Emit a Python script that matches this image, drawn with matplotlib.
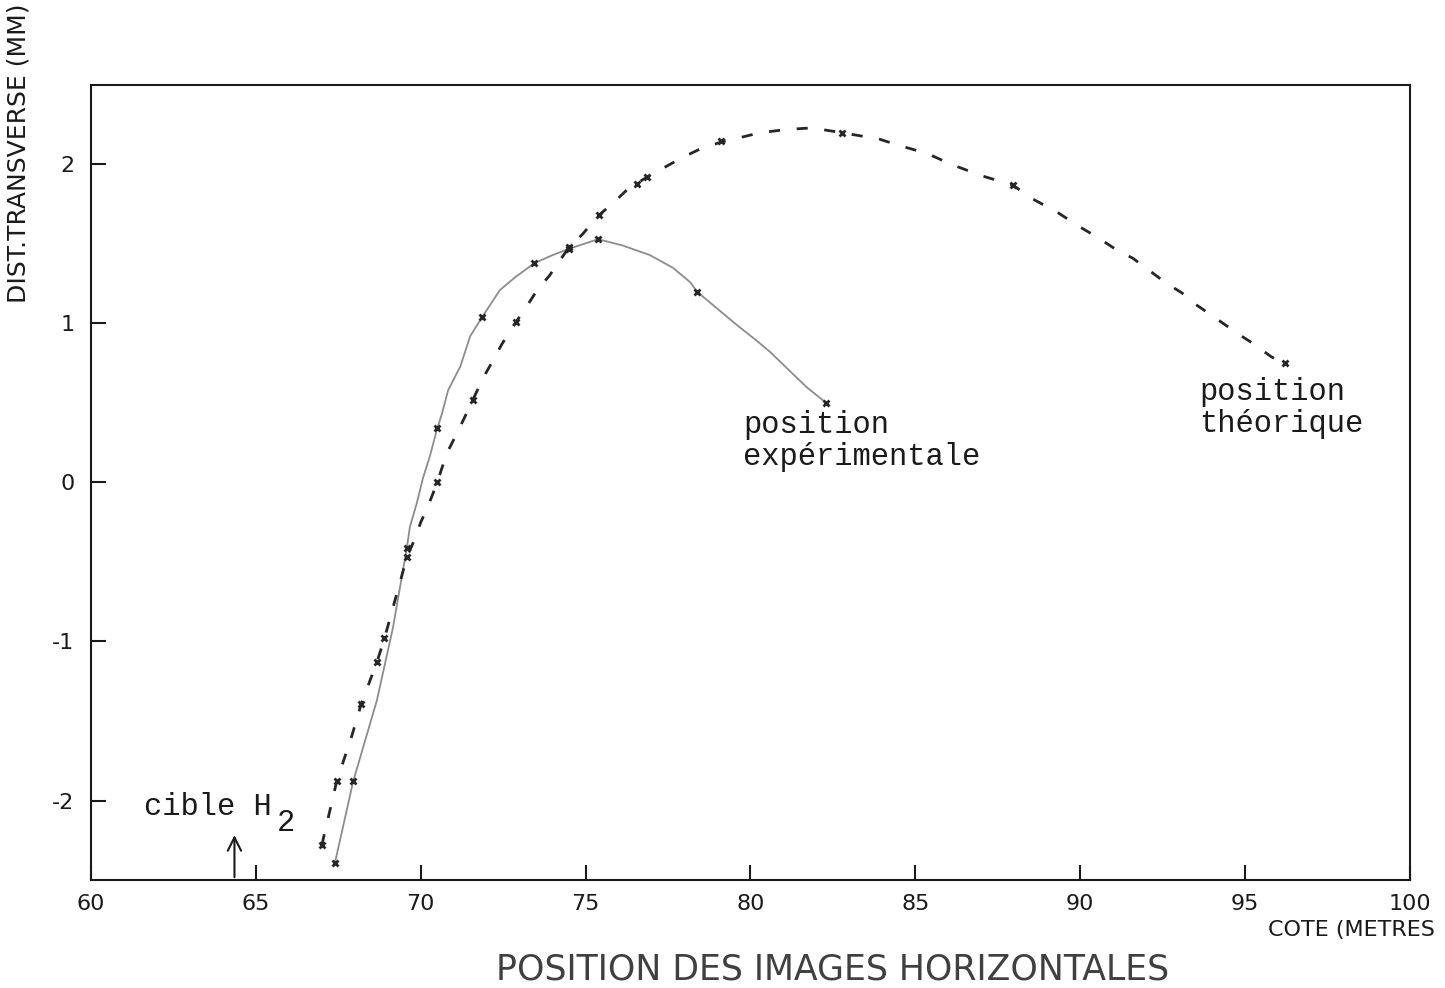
import matplotlib.pyplot as plt

# experimental beam position (pen trace) and measured points
exp_x = [67.4, 67.95, 68.67, 69.16, 69.58, 69.67, 69.88, 70.07, 70.27, 70.5, 70.64, 70.83,
         71.2, 71.5, 71.86, 72.4, 72.86, 73.45, 74.0, 74.5, 75.38, 76.13, 76.95, 77.65,
         78.17, 78.38, 79.07, 79.59, 80.2, 80.6, 81.2, 81.7, 82.3]
exp_y = [-2.39, -1.88, -1.37, -0.91, -0.41, -0.28, -0.13, 0.03, 0.16, 0.34, 0.43, 0.58,
         0.73, 0.92, 1.04, 1.21, 1.29, 1.38, 1.43, 1.47, 1.53, 1.49, 1.43, 1.35,
         1.26, 1.20, 1.08, 0.99, 0.89, 0.82, 0.70, 0.60, 0.50]
exp_mx = [67.4, 67.95, 69.58, 70.5, 71.86, 73.45, 74.5, 75.38, 78.38, 82.3]
exp_my = [-2.39, -1.88, -0.41, 0.34, 1.04, 1.38, 1.47, 1.53, 1.20, 0.50]

# theoretical position
th_x = [67.0, 67.45, 67.9, 68.2, 68.67, 68.9, 69.58, 69.83, 70.0, 70.22, 70.5, 70.64,
        70.83, 71.1, 71.4, 71.58, 71.74, 71.98, 72.2, 72.46, 72.89, 73.16, 73.53, 73.9,
        74.5, 74.9, 75.4, 75.9, 76.3, 76.86, 77.9, 78.5, 79.1, 80.3, 81.1, 81.86, 82.77,
        83.9, 84.5, 85.35, 86.1, 87.0, 87.96, 88.5, 89.3, 90.05, 90.54, 91.05, 91.6,
        92.57, 93.1, 93.5, 94.0, 94.75, 95.2, 95.8, 96.2]
th_y = [-2.28, -1.88, -1.6, -1.39, -1.13, -0.98, -0.47, -0.35, -0.25, -0.15, 0.0, 0.09,
        0.2, 0.31, 0.44, 0.52, 0.59, 0.69, 0.77, 0.87, 1.01, 1.09, 1.21, 1.3,
        1.48, 1.56, 1.68, 1.77, 1.85, 1.92, 2.04, 2.10, 2.14, 2.20, 2.22, 2.23, 2.20,
        2.16, 2.12, 2.07, 2.00, 1.93, 1.87, 1.79, 1.70, 1.60, 1.54, 1.47, 1.41,
        1.26, 1.19, 1.12, 1.05, 0.94, 0.88, 0.79, 0.75]
th_mx = [67.0, 67.45, 68.2, 68.67, 68.9, 69.58, 70.5, 71.58, 72.89, 74.5, 75.4, 76.56,
         76.86, 79.1, 82.77, 87.96, 96.2]
th_my = [-2.28, -1.88, -1.39, -1.13, -0.98, -0.47, 0.0, 0.52, 1.01, 1.48, 1.68, 1.88,
         1.92, 2.15, 2.20, 1.87, 0.75]

xticks = [60, 65, 70, 75, 80, 85, 90, 95, 100]
yticks = [-2, -1, 0, 1, 2]
target_x = 64.35

mono = 'Liberation Mono'

fig = plt.figure(figsize=(14.45, 9.88), dpi=100)
ax = fig.add_axes([0.063, 0.1093, 0.9127, 0.8047])

ax.plot(exp_x, exp_y, '-', color='0.55', lw=1.3)
ax.plot(exp_mx, exp_my, 'x', color='0.15', ms=5, mew=2)
ax.plot(th_x, th_y, '--', color='0.15', lw=2, dashes=(4, 6))
ax.plot(th_mx, th_my, 'x', color='0.15', ms=5, mew=2)

ax.set_xlim(60, 100)
ax.set_ylim(-2.5, 2.5)
ax.set_xticks(xticks)
ax.set_yticks(yticks)
ax.set_xticklabels([str(t) for t in xticks])
ax.set_yticklabels([str(t) for t in yticks])
ax.tick_params(direction='in', length=11, width=1.5, labelsize=16, colors='0.1')
ax.tick_params(axis='x', pad=10)
ax.tick_params(axis='y', pad=12)
for s in ax.spines.values():
    s.set_linewidth(1.5)
    s.set_color('0.1')

# labels on the curves
ax.text(79.77, 0.26, 'position\nexpérimentale', family=mono, fontsize=22,
        va='center', ha='left', linespacing=1.1, color='0.1')
ax.text(93.6, 0.47, 'position\nthéorique', family=mono, fontsize=22,
        va='center', ha='left', linespacing=1.1, color='0.1')
ax.text(61.6, -2.04, 'cible H', family=mono, fontsize=22, va='center', ha='left', color='0.1')
ax.text(65.65, -2.14, '2', family=mono, fontsize=22, va='center', ha='left', color='0.1')
ax.annotate('', xy=(target_x, -2.2), xytext=(target_x, -2.5),
            arrowprops=dict(arrowstyle='->', lw=1.5, color='0.1', mutation_scale=24))

fig.text(0.993, 0.059, 'COTE (METRES', ha='right', va='center', fontsize=16, color='0.1')
fig.text(0.576, 0.019, 'POSITION DES IMAGES HORIZONTALES', ha='center', va='center',
         fontsize=25, color='0.25')
fig.text(0.013, 0.845, 'DIST.TRANSVERSE (MM)', rotation=90, ha='center', va='center',
         fontsize=18, color='0.1')

fig.savefig('out.png', dpi=100)
